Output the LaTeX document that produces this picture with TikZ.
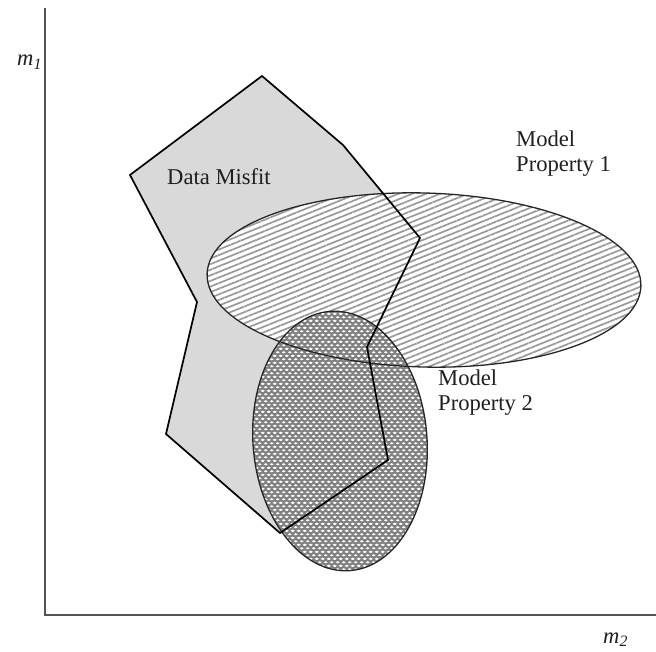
\documentclass[tikz,border=0pt]{standalone}
\usepackage{fontspec}
\setmainfont{Liberation Serif}
\usetikzlibrary{patterns,patterns.meta}
\definecolor{meshgray}{gray}{0.5}
\definecolor{misfitgray}{gray}{0.85}
\definecolor{axisgray}{gray}{0.33}
\definecolor{textgray}{gray}{0.12}
\pgfdeclarepatterninherentlycolored{mesh}{\pgfpointorigin}{\pgfqpoint{5.7pt}{7.4pt}}{\pgfqpoint{5.7pt}{7.4pt}}{%
  \pgfsetfillcolor{meshgray}%
  \pgfpathrectangle{\pgfpointorigin}{\pgfqpoint{5.7pt}{7.4pt}}%
  \pgfusepath{fill}%
  \pgfsetfillcolor{white}%
  \pgfpathellipse{\pgfqpoint{2.85pt}{1.85pt}}{\pgfqpoint{2.0pt}{0pt}}{\pgfqpoint{0pt}{1.2pt}}%
  \pgfpathellipse{\pgfqpoint{0pt}{5.55pt}}{\pgfqpoint{2.0pt}{0pt}}{\pgfqpoint{0pt}{1.2pt}}%
  \pgfpathellipse{\pgfqpoint{5.7pt}{5.55pt}}{\pgfqpoint{2.0pt}{0pt}}{\pgfqpoint{0pt}{1.2pt}}%
  \pgfusepath{fill}%
}
\begin{document}
\begin{tikzpicture}[x=1pt,y=-1pt,
  lbl/.style={inner sep=0pt,text=textgray,font=\fontsize{22.6}{25}\selectfont,align=left},
  axisline/.style={draw=axisgray,line width=2.6pt},
  outline/.style={draw=black,line width=1.7pt,line join=miter},
  ellborder/.style={draw=black!85,line width=1.3pt}]
\useasboundingbox (0,0) rectangle (656,652);
% polygon fill
\fill[misfitgray] (262,76) -- (343,145) -- (420,238) -- (367,347) -- (388,460) -- (280,533) -- (166,434) -- (197,302) -- (130,175) -- cycle;
% ellipse 1
\fill[white] (424,280) ellipse [x radius=217, y radius=87, rotate=-1.6];
\fill[pattern={Lines[angle=22,distance=5.2pt,line width=1.7pt]},pattern color=gray!80] (424,280) ellipse [x radius=217, y radius=87, rotate=-1.6];
% ellipse 2
\fill[pattern=mesh] (340,441) ellipse [x radius=87, y radius=130, rotate=4.5];
% outlines
\draw[ellborder] (424,280) ellipse [x radius=217, y radius=87, rotate=-1.6];
\draw[ellborder] (340,441) ellipse [x radius=87, y radius=130, rotate=4.5];
\draw[outline] (262,76) -- (343,145) -- (420,238) -- (367,347) -- (388,460) -- (280,533) -- (166,434) -- (197,302) -- (130,175) -- cycle;
% axes
\coordinate (ytop) at (45,8);
\coordinate (origin) at (45,615);
\coordinate (xend) at (656,615);
\draw[axisline] (ytop) -- (origin) -- (xend);
% labels
\node[lbl,anchor=base west] (m1) at (17,66) {\textit{m}\textsubscript{\textit{1}}};
\node[lbl,anchor=base west] (m2) at (603,643) {\textit{m}\textsubscript{\textit{2}}};
\node[lbl,anchor=base west] (misfit) at (167,185) {Data Misfit};
\node[lbl,anchor=base west] (mp1) at (516,172) {Model\\Property 1};
\node[lbl,anchor=base west] (mp2) at (438,410) {Model\\Property 2};
\end{tikzpicture}
\end{document}
